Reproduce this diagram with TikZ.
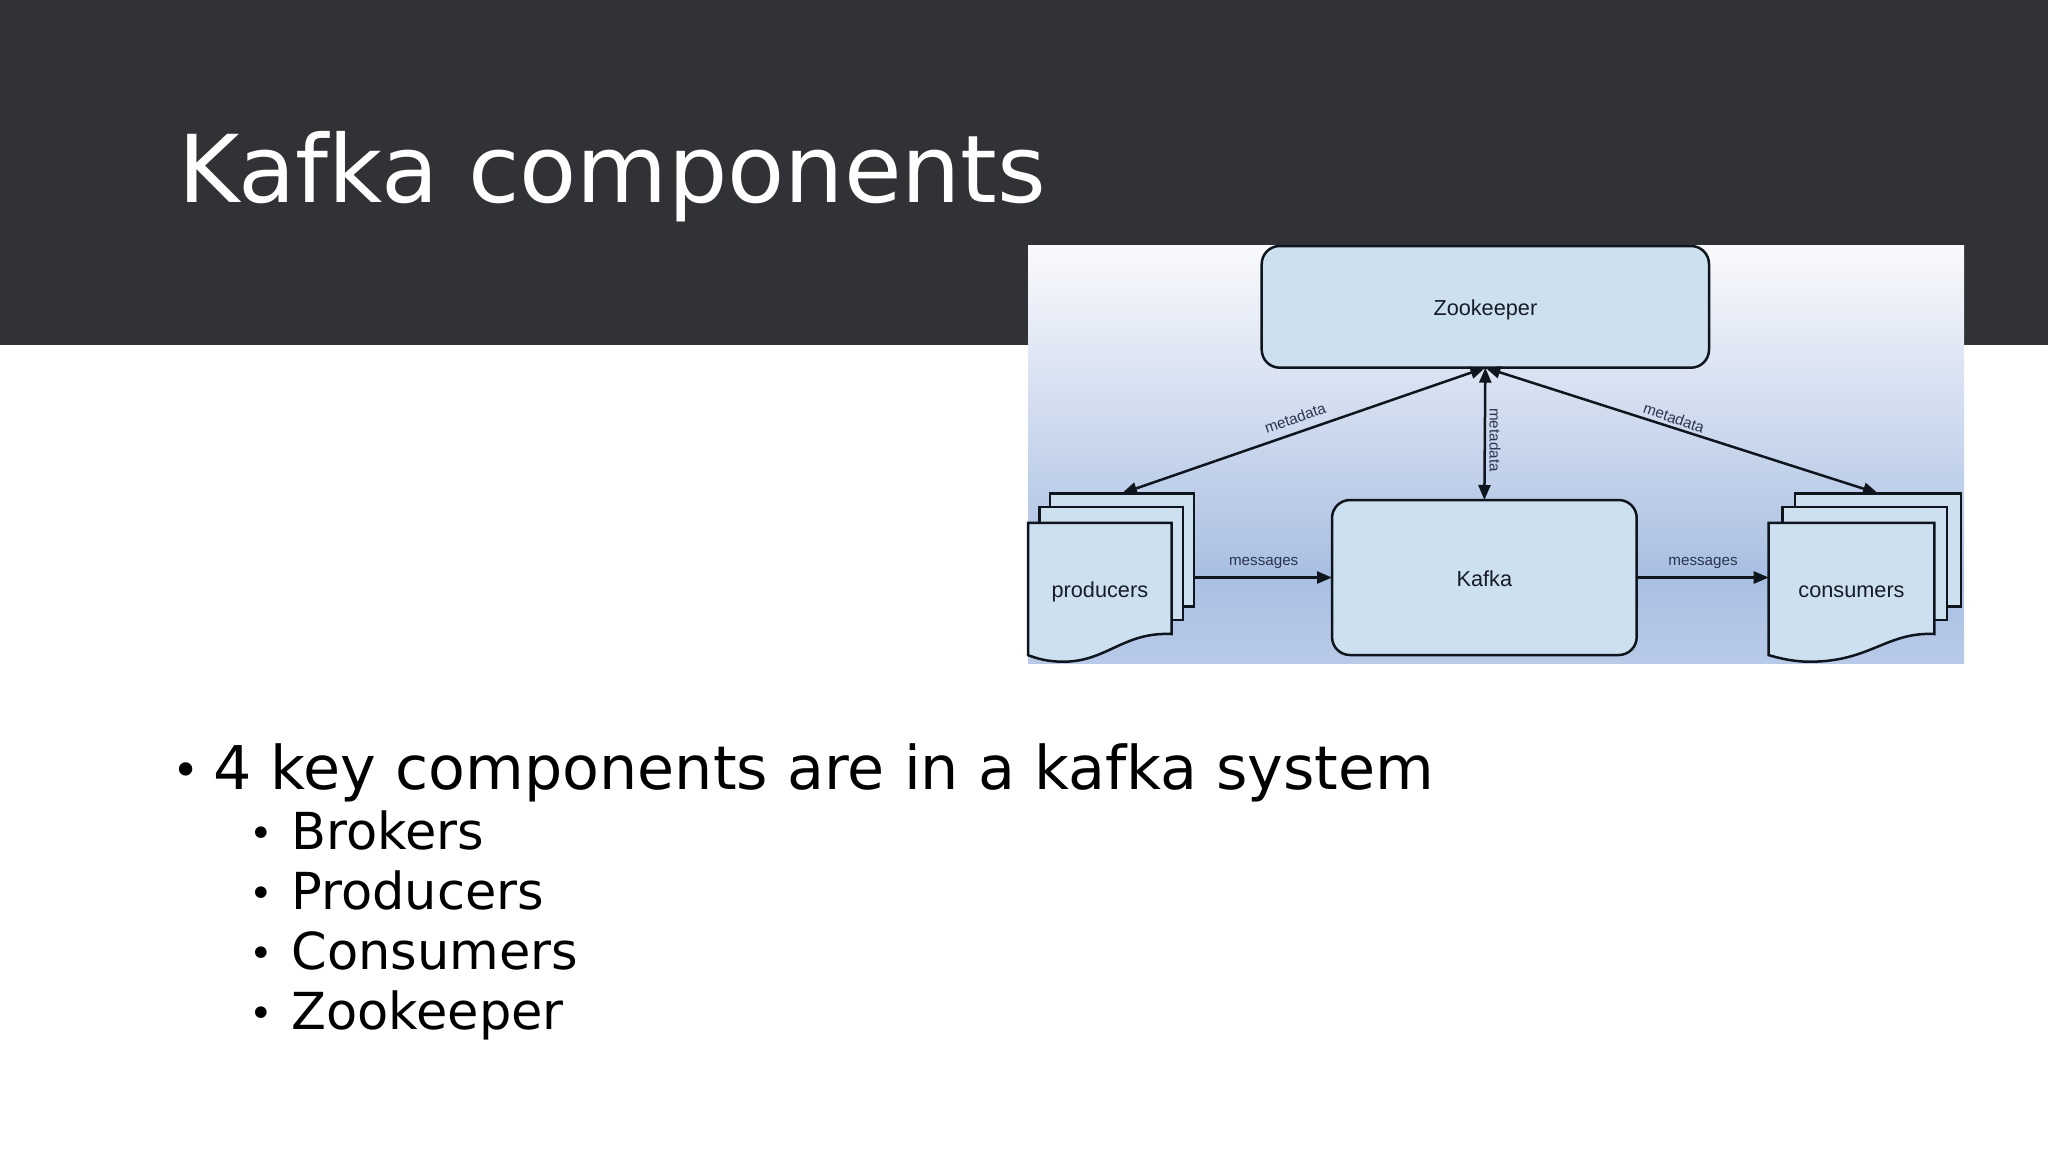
\documentclass[tikz,border=0pt]{standalone}
\usepackage{fontspec}
\setmainfont{DejaVu Sans}
\newfontfamily\diagfont{Liberation Sans}
\usetikzlibrary{arrows.meta}
\definecolor{band}{HTML}{303236}
\definecolor{boxfill}{HTML}{CCE0F0}
\definecolor{boxline}{HTML}{0E151C}
\definecolor{boxtext}{HTML}{161C26}
\definecolor{lbltext}{HTML}{2A3450}
\definecolor{bgtop}{HTML}{FAFAFD}
\definecolor{bgmid}{HTML}{A9BFE2}
\definecolor{bgbot}{HTML}{B8CAE8}
\tikzset{
  px/.style={x=0.5pt,y=-0.5pt},
  stdbox/.style={draw=boxline,fill=boxfill,line width=1.25pt,inner sep=0pt,outer sep=0pt,rounded corners=9pt},
  sheet/.style={draw=boxline,fill=boxfill,line width=1.25pt,inner sep=0pt,outer sep=0pt},
  front/.style={inner sep=0pt,outer sep=0pt,text=boxtext,font=\diagfont\fontsize{10.85}{13}\selectfont},
  lbl/.style={inner sep=0pt,text=lbltext,font=\diagfont\fontsize{7.6}{9}\selectfont},
  conn/.style={draw=boxline,line width=1.25pt,-{Triangle[length=7.5pt,width=6pt]}},
  biconn/.style={draw=boxline,line width=1.25pt,{Triangle[length=7.5pt,width=6pt]}-{Triangle[length=7.5pt,width=6pt]}},
  titletext/.style={anchor=base west,inner sep=0pt,text=white,font=\fontsize{46.8}{56}\selectfont},
  bulletone/.style={anchor=base west,inner sep=0pt,text=black,font=\fontsize{30.15}{36}\selectfont},
  bullettwo/.style={anchor=base west,inner sep=0pt,text=black,font=\fontsize{25.5}{30}\selectfont},
  dotone/.style={anchor=base west,inner sep=0pt,text=black,font=\fontsize{23}{28}\selectfont},
  dottwo/.style={anchor=base west,inner sep=0pt,text=black,font=\fontsize{20}{24}\selectfont},
}
\begin{document}
\begin{tikzpicture}[px]
\useasboundingbox (0,0) rectangle (2048,1152);
\fill[white] (0,0) rectangle (2048,1152);
\fill[band] (0,0) rectangle (2048,345);
\node[titletext] (title) at (178,202) {Kafka components};
% diagram image background
\shade[top color=bgtop,bottom color=bgmid,draw=none] (1028,245) rectangle (1964,575);
\shade[top color=bgmid,bottom color=bgbot,draw=none] (1028,575) rectangle (1964,663);
% boxes
\node[stdbox,minimum width=223.65pt,minimum height=60.85pt] (zoo) at (1485.35,306.85) {};
\node[front] (ztext) at ([yshift=-1.3pt]zoo.center) {Zookeeper};
\node[stdbox,minimum width=152.35pt,minimum height=77.5pt] (kafka) at (1484.35,577.5) {};
\node[front] (ktext) at ([yshift=-.5pt]kafka.center) {Kafka};
% producers
\node[sheet,minimum width=72pt,minimum height=56.7pt] (pb) at (1122,550) {};
\node[sheet,minimum width=71.65pt,minimum height=56.5pt] (pm) at (1111.35,563.5) {};
\node[front,minimum width=71.85pt,minimum height=66.15pt] (pf) at (1099.85,589) {};
\draw[sheet] (pf.south west) -- (pf.north west) -- (pf.north east) -- (1171.7,634)
  .. controls (1123.3,631.7) and (1106.7,661.7) .. (1063.3,661.7)
  .. controls (1046.7,661.7) and (1036.7,658.3) .. (pf.south west) -- cycle;
\node[front] (ptext) at ([yshift=-1.3pt]pf.center) {producers};
% consumers
\node[sheet,minimum width=83pt,minimum height=56.7pt] (cb) at (1878,550) {};
\node[sheet,minimum width=82.15pt,minimum height=56.5pt] (cm) at (1864.85,563.5) {};
\node[front,minimum width=82.8pt,minimum height=66.15pt] (cf) at (1851.5,589) {};
\draw[sheet] (cf.south west) -- (cf.north west) -- (cf.north east) -- (1934.3,634)
  .. controls (1886.7,631.7) and (1870,661.7) .. (1810,661.7)
  .. controls (1793.3,661.7) and (1780,658.3) .. (cf.south west) -- cycle;
\node[front] (ctext) at ([yshift=-1.3pt]cf.center) {consumers};
% connectors
\draw[biconn] (zoo.south) -- (pb.north);
\draw[biconn] (zoo.south) -- (cb.north);
\draw[biconn] (zoo.south) -- (kafka.north);
\draw[conn] (pb.east |- kafka.west) -- (kafka.west);
\draw[conn] (kafka.east) -- (cf.west |- kafka.east);
% labels
\node[lbl,rotate=19] (m1) at (1295,418) {metadata};
\node[lbl,rotate=-19] (m2) at (1674,418) {metadata};
\node[lbl,rotate=-90] (m3) at (1495,440) {metadata};
\node[lbl] (g1) at (1263.7,562.5) {messages};
\node[lbl] (g2) at (1703,562.5) {messages};
% bullets
\node[dotone] (b0) at (172,786) {•};
\node[bulletone] (t0) at (213,789) {4 key components are in a kafka system};
\node[dottwo] (b1) at (249,847) {•};
\node[bullettwo] (t1) at (291,849) {Brokers};
\node[dottwo] (b2) at (249,907) {•};
\node[bullettwo] (t2) at (291,909) {Producers};
\node[dottwo] (b3) at (249,967) {•};
\node[bullettwo] (t3) at (291,969) {Consumers};
\node[dottwo] (b4) at (249,1027) {•};
\node[bullettwo] (t4) at (291,1029) {Zookeeper};
\end{tikzpicture}
\end{document}
